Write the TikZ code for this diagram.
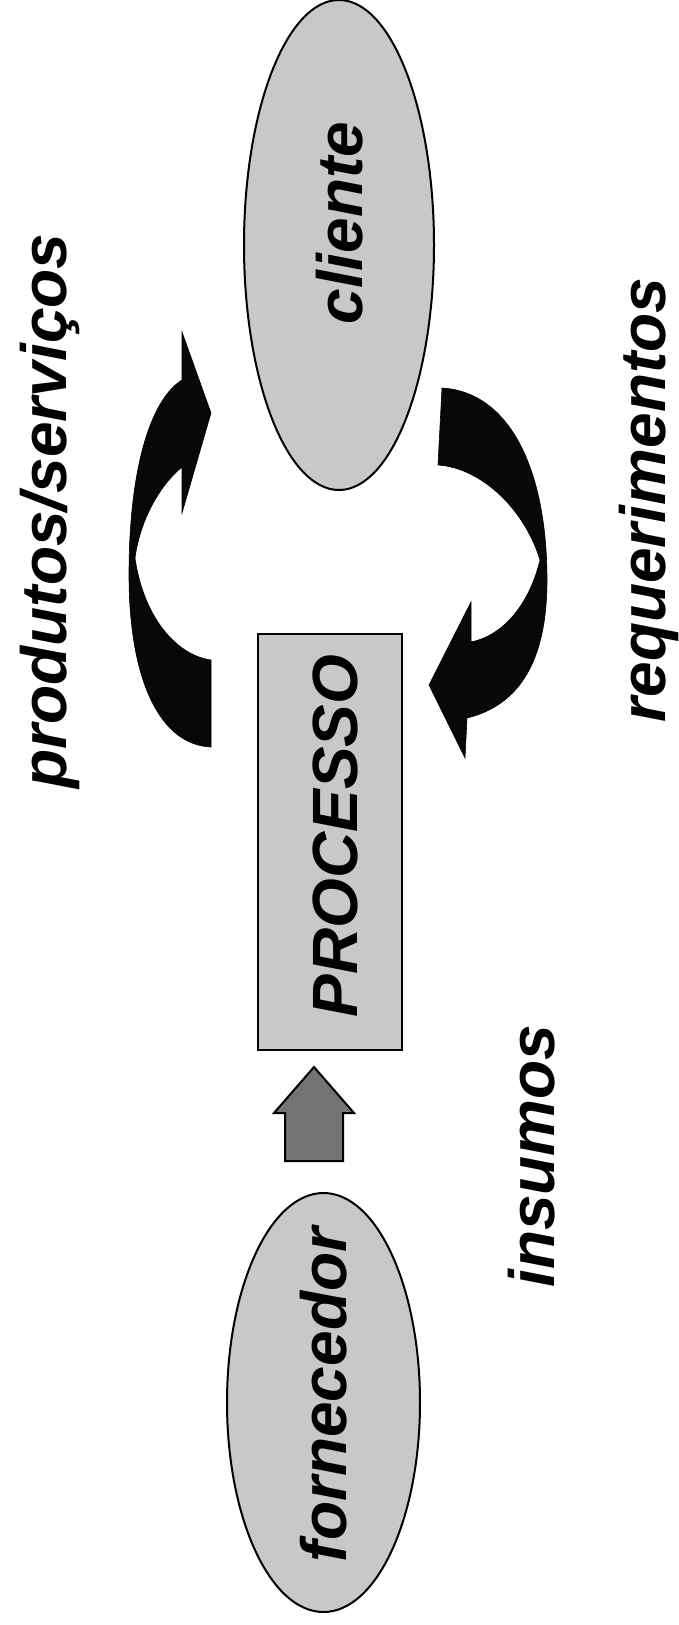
\documentclass[tikz,border=0pt]{standalone}
\usepackage{fontspec}
\setmainfont{Liberation Sans}
\usetikzlibrary{shapes.geometric}
\definecolor{shapegray}{HTML}{C8C8C8}
\definecolor{inputgray}{HTML}{737373}
\definecolor{arrowblack}{HTML}{080808}
\begin{document}
\begin{tikzpicture}[x=1pt,y=-1pt,
  label/.style={rotate=90,inner sep=0pt,font=\bfseries\itshape\fontsize{64}{72}\selectfont},
  oval/.style={ellipse,draw=black,line width=2pt,fill=shapegray,inner sep=0pt},
  bigarrow/.style={fill=arrowblack,draw=black,line width=0.6pt,line join=miter},
]
\useasboundingbox (0,0) rectangle (678,1625);

% customer and supplier
\node[oval,minimum width=190pt,minimum height=490pt] (cliente) at (339,245) {};
\node[oval,minimum width=193pt,minimum height=419pt] (fornecedor) at (323.5,1402.5) {};

% process box
\node[draw=black,line width=2pt,fill=shapegray,minimum width=144pt,minimum height=416pt,inner sep=0pt] (processo) at (330,842) {};

% labels
\node[label] (tcliente) at (340,223) {cliente};
\node[label] (tfornecedor) at (324,1395) {fornecedor};
\node[label] (tprocesso) at (335,836) {PROCESSO};
\node[label] (tprodutos) at (50,511) {produtos/serviços};
\node[label] (trequer) at (649,500) {requerimentos};
\node[label] (tinsumos) at (532,1156) {insumos};

% input arrow from supplier to process
\draw[fill=inputgray,draw=black,line width=2pt,line join=miter]
  (285,1161) -- (285,1113) -- (274,1113) -- (314,1067) -- (354,1113)
  -- (343,1113) -- (343,1161) -- cycle;

% products/services: process back to customer
\draw[bigarrow]
  (211,747) .. controls (160,745) and (129,680) .. (129,575)
  .. controls (129,470) and (150,400) .. (182,380)
  -- (182,332) -- (211,413) -- (182,513) -- (182,467)
  .. controls (160,485) and (140,520) .. (135,558)
  .. controls (143,615) and (175,655) .. (211,660) -- cycle;

% requirements: customer to process
\draw[bigarrow]
  (442,388) -- (438,465)
  .. controls (482,468) and (525,510) .. (540,560)
  .. controls (530,602) and (505,635) .. (471,642)
  -- (471,602) -- (429,685) -- (465,758) -- (467,718)
  .. controls (520,705) and (547,660) .. (547,580)
  .. controls (547,470) and (510,392) .. cycle;
\end{tikzpicture}
\end{document}
